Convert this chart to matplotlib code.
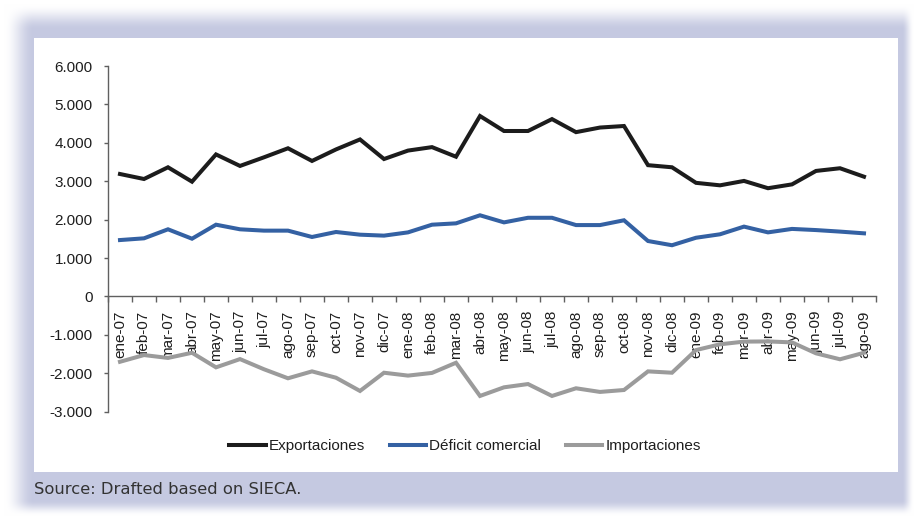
import numpy as np
import matplotlib
matplotlib.use("Agg")
import matplotlib.pyplot as plt
from matplotlib.ticker import FuncFormatter, FixedLocator
from matplotlib.patches import Rectangle

# Monthly trade figures (millions)
meses = ["ene-07", "feb-07", "mar-07", "abr-07", "may-07", "jun-07", "jul-07", "ago-07",
         "sep-07", "oct-07", "nov-07", "dic-07", "ene-08", "feb-08", "mar-08", "abr-08",
         "may-08", "jun-08", "jul-08", "ago-08", "sep-08", "oct-08", "nov-08", "dic-08",
         "ene-09", "feb-09", "mar-09", "abr-09", "may-09", "jun-09", "jul-09", "ago-09"]

exportaciones = [3190, 3060, 3365, 2990, 3700, 3400, 3625, 3860,
                 3530, 3830, 4090, 3580, 3800, 3890, 3640, 4700,
                 4310, 4310, 4620, 4280, 4400, 4440, 3420, 3365,
                 2960, 2895, 3010, 2820, 2920, 3270, 3340, 3120]

deficit_comercial = [1470, 1515, 1750, 1505, 1870, 1750, 1715, 1715,
                     1550, 1680, 1610, 1585, 1670, 1870, 1905, 2115,
                     1930, 2050, 2050, 1860, 1860, 1985, 1445, 1335,
                     1530, 1620, 1820, 1670, 1760, 1730, 1690, 1645]

importaciones = [-1700, -1525, -1600, -1465, -1845, -1630, -1895, -2130,
                 -1950, -2115, -2460, -1985, -2060, -1990, -1725, -2590,
                 -2365, -2280, -2590, -2390, -2485, -2435, -1950, -1985,
                 -1395, -1245, -1175, -1170, -1195, -1480, -1635, -1465]

y_ticks = [-3000, -2000, -1000, 0, 1000, 2000, 3000, 4000, 5000, 6000]

series = [("Exportaciones", exportaciones, "#1c1c1c"),
          ("Déficit comercial", deficit_comercial, "#3461a3"),
          ("Importaciones", importaciones, "#9b9b9b")]

W, H = 917, 518
fig = plt.figure(figsize=(W / 100, H / 100), dpi=100)

# Lavender frame with soft edges, white panel, source note
bg = fig.add_axes([0, 0, 1, 1])
xs = np.arange(W) + 0.5
ys = np.arange(H) + 0.5


def ramp(t):
    t = np.clip(t, 0, 1)
    return t * t * (3 - 2 * t)


fade_x = ramp((xs - 4) / 30) * ramp((914 - xs) / 12)
fade_y = ramp((ys - 4) / 26) * ramp((516 - ys) / 16)
alpha = np.outer(fade_y, fade_x)
lav = np.array([197, 201, 225]) / 255
img = 1 - alpha[..., None] * (1 - lav)
bg.imshow(img, extent=(0, W, H, 0), aspect="auto", interpolation="bilinear")
bg.set_xlim(0, W)
bg.set_ylim(H, 0)
bg.axis("off")
bg.add_patch(Rectangle((34, 38), 864, 434, facecolor="white", edgecolor="none"))
bg.text(34, 494, "Source: Drafted based on SIECA.", family="DejaVu Sans",
        fontsize=11.8, color="#333333", va="baseline", ha="left")

# Main chart
y0, y1 = 66.1, 411.7
ax = fig.add_axes([108 / W, 1 - y1 / H, 768 / W, (y1 - y0) / H])
ax.set_facecolor("none")

x = np.arange(len(meses))
for name, vals, col in series:
    ax.plot(x, vals, color=col, lw=2.9, label=name, zorder=3,
            solid_joinstyle="miter")

ax.set_xlim(-0.5, len(meses) - 0.5)
ax.set_ylim(-3000, 6000)

for s in ["top", "right"]:
    ax.spines[s].set_visible(False)
ax.spines["bottom"].set_position(("data", 0))
for s in ["left", "bottom"]:
    ax.spines[s].set_color("#606060")
    ax.spines[s].set_linewidth(1.0)

ax.yaxis.set_major_locator(FixedLocator(y_ticks))
ax.yaxis.set_major_formatter(FuncFormatter(lambda v, p: f"{int(v):,}".replace(",", ".")))
ax.tick_params(axis="y", direction="out", length=3, width=1.0, color="#606060",
               pad=8, labelsize=11, labelcolor="#1e1e1e")

# boundary ticks on the zero line, labels at category centres
ax.xaxis.set_major_locator(FixedLocator(np.arange(len(meses) + 1) - 0.5))
ax.xaxis.set_major_formatter(FuncFormatter(lambda v, p: ""))
ax.xaxis.set_minor_locator(FixedLocator(x))
ax.set_xticklabels(meses, minor=True, rotation=90, ha="center", va="top")
ax.tick_params(axis="x", which="major", direction="out", length=4, width=1.0,
               color="#606060")
ax.tick_params(axis="x", which="minor", length=0, pad=10, labelsize=11,
               labelcolor="#1e1e1e")

for t in ax.get_xticklabels(minor=True) + ax.get_yticklabels():
    t.set_family("Liberation Sans")

leg = fig.legend(loc="center", bbox_to_anchor=(465 / W, 1 - 446 / H), ncol=3,
                 frameon=False, handlelength=2.4, handletextpad=0.2,
                 columnspacing=1.6, prop={"family": "Liberation Sans", "size": 11})
for t in leg.get_texts():
    t.set_color("#1e1e1e")

fig.savefig("out.png", dpi=100)
